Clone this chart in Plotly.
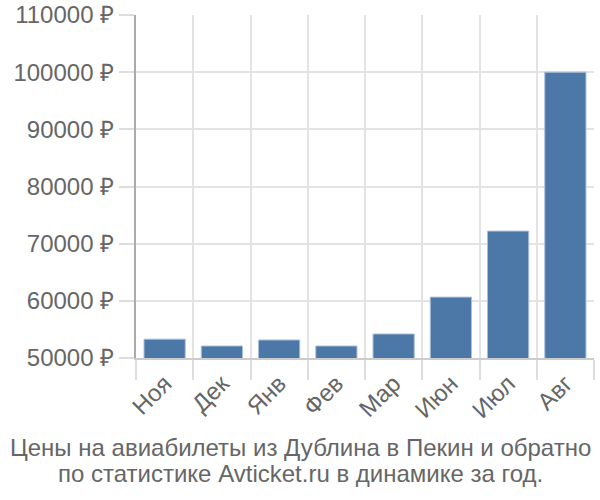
import plotly.graph_objects as go

months = ["Ноя", "Дек", "Янв", "Фев", "Мар", "Июн", "Июл", "Авг"]
prices = [53300, 52100, 53150, 52100, 54200, 60650, 72200, 100000]
title_lines = ["Цены на авиабилеты из Дублина в Пекин и обратно",
               "по статистике Avticket.ru в динамике за год."]

fig = go.Figure(go.Bar(
    x=months, y=prices, width=0.72,
    marker=dict(color="#4c78a8", line=dict(color="#a9bfd9", width=1)),
))

FONT = "Liberation Sans, Arial, sans-serif"
fig.update_layout(
    width=600, height=500,
    margin=dict(l=136, r=6, t=15, b=142),
    paper_bgcolor="white", plot_bgcolor="white",
    font=dict(family=FONT, size=24, color="#666666"),
    showlegend=False,
)
fig.update_xaxes(
    type="category", tickson="boundaries", tickangle=-45,
    showgrid=True, gridcolor="#e3e3e3", gridwidth=2,
    ticks="outside", ticklen=20, tickcolor="#dddddd", tickwidth=2,
    showline=True, linecolor="#cccccc", linewidth=2,
    tickfont=dict(size=24, color="#666666"), automargin=False,
)
fig.update_yaxes(
    range=[50000, 110000], dtick=10000, tickformat="d", ticksuffix=" ₽",
    showgrid=True, gridcolor="#e3e3e3", gridwidth=2,
    ticks="outside", ticklen=15, tickcolor="#dddddd", tickwidth=2,
    showline=True, linecolor="#aaaaaa", linewidth=2,
    tickfont=dict(size=24, color="#666666"),
    zeroline=False, automargin=False,
)
cx = (300 - 136) / 458
for i, line in enumerate(title_lines):
    fig.add_annotation(
        text=line, xref="paper", yref="paper",
        x=cx, y=0, yshift=-(447 - 358) - 26 * i, xanchor="center", yanchor="middle",
        showarrow=False, font=dict(size=24, color="#666666"),
    )
fig.write_html("out.html")
